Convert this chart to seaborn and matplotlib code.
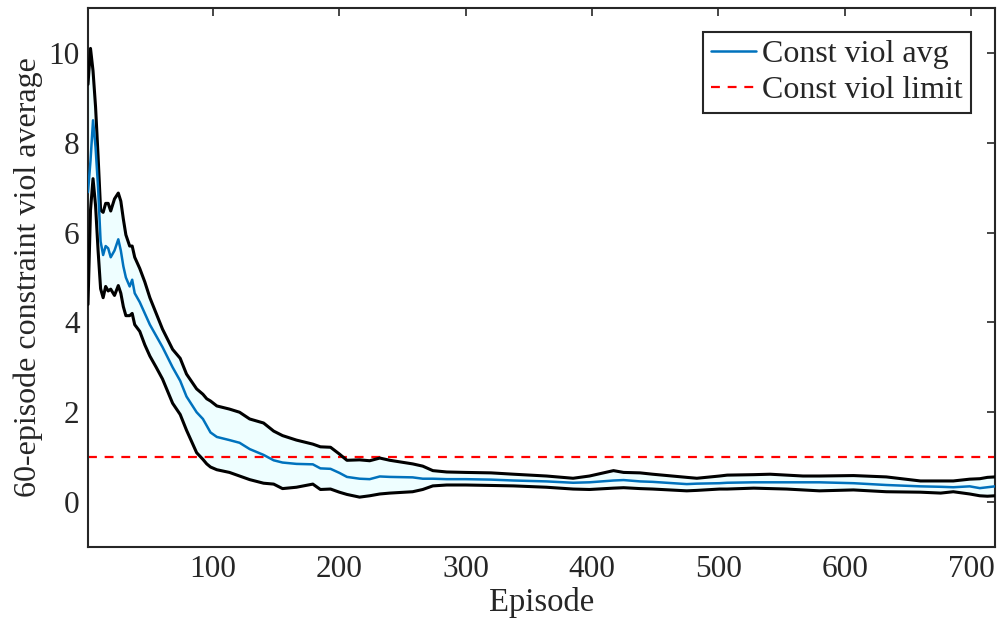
import numpy as np
import pandas as pd
import matplotlib
matplotlib.use("Agg")
import matplotlib.pyplot as plt
import seaborn as sns

# ---- data ----
episodes = [1, 3, 5, 7, 9, 11, 13, 15, 17, 19, 22, 25, 27, 29, 31, 34, 36, 38, 42, 46,
            50, 55, 60, 68, 74, 79, 87, 92, 95, 98, 103, 113, 121, 129, 140, 148, 155,
            166, 179, 185, 193, 200, 206, 216, 224, 232, 240, 258, 266, 274, 285, 300,
            320, 338, 364, 385, 398, 417, 425, 438, 448, 475, 483, 501, 507, 528, 541,
            554, 567, 580, 607, 633, 660, 676, 686, 699, 707, 713, 719]
upper = [9.3, 10.1, 9.6, 8.8, 7.7, 6.5, 6.45, 6.65, 6.65, 6.48, 6.75, 6.88, 6.7, 6.3, 5.95,
         5.7, 5.7, 5.45, 5.2, 4.9, 4.55, 4.2, 3.85, 3.4, 3.2, 2.85, 2.52, 2.4, 2.3, 2.25,
         2.14, 2.07, 2.0, 1.85, 1.76, 1.58, 1.48, 1.38, 1.29, 1.23, 1.22, 1.07, 0.93, 0.94,
         0.92, 0.98, 0.93, 0.85, 0.8, 0.7, 0.67, 0.66, 0.65, 0.62, 0.58, 0.53, 0.58, 0.7,
         0.66, 0.65, 0.62, 0.55, 0.53, 0.58, 0.6, 0.61, 0.62, 0.6, 0.58, 0.58, 0.59, 0.56,
         0.47, 0.47, 0.47, 0.51, 0.52, 0.55, 0.56]
mean = [6.9, 7.6, 8.5, 7.9, 7.0, 5.8, 5.5, 5.7, 5.65, 5.45, 5.6, 5.85, 5.6, 5.25, 5.0,
        4.8, 4.95, 4.65, 4.45, 4.2, 3.95, 3.7, 3.45, 3.0, 2.7, 2.35, 2.0, 1.85, 1.7, 1.55,
        1.45, 1.38, 1.32, 1.18, 1.05, 0.93, 0.88, 0.85, 0.84, 0.75, 0.74, 0.65, 0.56, 0.52,
        0.51, 0.57, 0.56, 0.55, 0.52, 0.52, 0.51, 0.51, 0.5, 0.48, 0.46, 0.43, 0.44, 0.48,
        0.49, 0.46, 0.45, 0.4, 0.41, 0.42, 0.43, 0.44, 0.44, 0.44, 0.44, 0.44, 0.42, 0.38,
        0.35, 0.34, 0.33, 0.35, 0.31, 0.33, 0.35]
lower = [4.4, 6.5, 7.2, 6.6, 5.6, 4.75, 4.55, 4.8, 4.7, 4.74, 4.6, 4.82, 4.65, 4.35, 4.15,
         4.15, 4.2, 3.95, 3.8, 3.5, 3.25, 3.0, 2.74, 2.2, 1.95, 1.6, 1.1, 0.95, 0.85, 0.78,
         0.72, 0.66, 0.58, 0.5, 0.42, 0.4, 0.3, 0.33, 0.4, 0.28, 0.29, 0.22, 0.17, 0.11,
         0.14, 0.18, 0.2, 0.23, 0.28, 0.36, 0.38, 0.38, 0.37, 0.36, 0.33, 0.29, 0.28, 0.31,
         0.32, 0.3, 0.29, 0.25, 0.26, 0.29, 0.29, 0.31, 0.3, 0.29, 0.27, 0.25, 0.27, 0.23,
         0.22, 0.2, 0.23, 0.18, 0.14, 0.13, 0.14]
viol_limit = 1.0
x_ticks = [100, 200, 300, 400, 500, 600, 700]
y_ticks = [0, 2, 4, 6, 8, 10]

df = pd.DataFrame({"Episode": episodes, "upper": upper, "mean": mean, "lower": lower})

sns.set_theme(style="white")
plt.rcParams["font.family"] = ["Liberation Serif", "DejaVu Serif"]
plt.rcParams["mathtext.fontset"] = "stix"

fig = plt.figure(figsize=(10.02, 6.39), dpi=100)
ax = fig.add_axes([0.0878, 0.144, 0.9052, 0.8435])

ax.fill_between(df["Episode"], df["lower"], df["upper"], color="#EEFEFF", linewidth=0, zorder=1)
sns.lineplot(data=df, x="Episode", y="upper", ax=ax, color="black", linewidth=2.2,
             estimator=None, sort=True, legend=False, zorder=3)
sns.lineplot(data=df, x="Episode", y="lower", ax=ax, color="black", linewidth=2.2,
             estimator=None, sort=True, legend=False, zorder=3)
sns.lineplot(data=df, x="Episode", y="mean", ax=ax, color="#0072BD", linewidth=1.8,
             estimator=None, sort=True, label="Const viol avg", zorder=4)
ax.axhline(viol_limit, color="red", linestyle=(0, (4, 3.5)), linewidth=1.6,
           label="Const viol limit", zorder=2)

ax.set_xlim(1, 719)
ax.set_ylim(-1, 11)
ax.set_xticks(x_ticks)
ax.set_yticks(y_ticks)
ax.set_xlabel("Episode", fontsize=23.5, color="#262626", labelpad=2)
ax.set_ylabel("60-episode constraint viol average", fontsize=23, color="#262626", labelpad=4)
ax.tick_params(axis="both", which="both", direction="in", length=6, width=1.2,
               labelsize=22.5, colors="#262626", top=True, right=True, pad=6)
for s in ax.spines.values():
    s.set_visible(True)
    s.set_color("#262626")
    s.set_linewidth(1.5)

leg = ax.legend(loc="upper right", fontsize=23, frameon=True, fancybox=False,
                edgecolor="#262626", framealpha=1, handlelength=1.4, handletextpad=0.2,
                borderpad=0.25, labelspacing=0.2, borderaxespad=0.75)
leg.get_frame().set_linewidth(1.5)

fig.savefig("out.png", dpi=100)
